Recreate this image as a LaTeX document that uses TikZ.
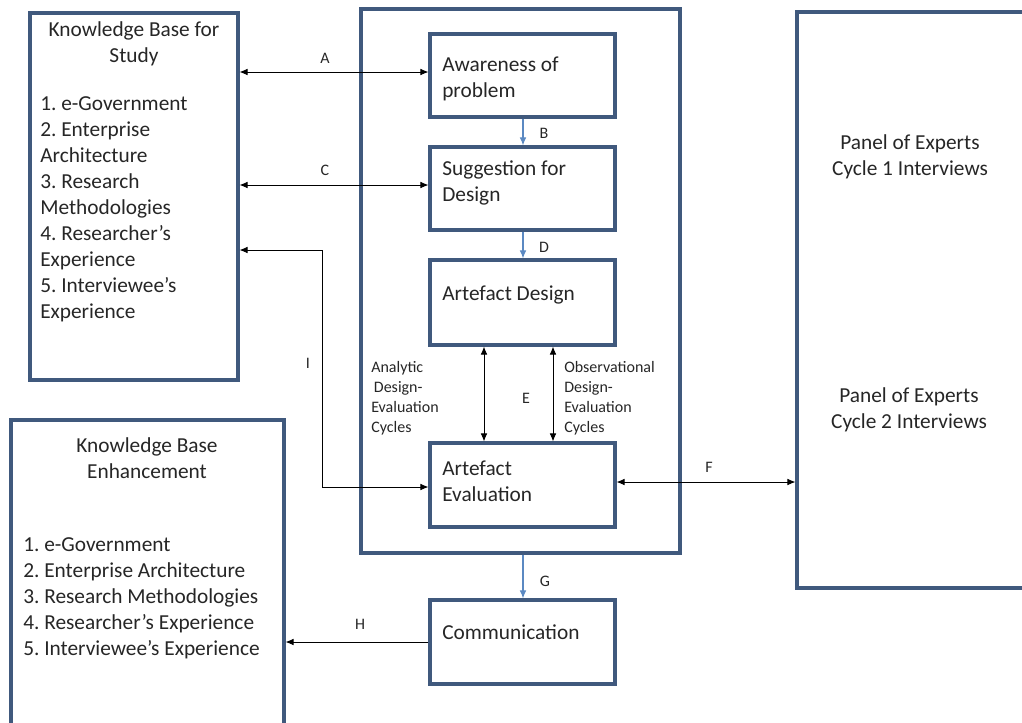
\documentclass[tikz,border=0pt]{standalone}
\usepackage{fontspec}
\setmainfont{Carlito}
\usetikzlibrary{arrows.meta,fit}
\definecolor{boxc}{HTML}{40597D}
\definecolor{flowc}{HTML}{5B89C2}
\frenchspacing
\begin{document}
\begin{tikzpicture}[x=0.75pt,y=-0.75pt,
  box/.style={draw=boxc,line width=2.4pt,inner sep=0pt,fill=none},
  txt/.style={font=\fontsize{16}{19.5}\selectfont,inner sep=0pt,text=black!85},
  small/.style={font=\fontsize{12}{15}\selectfont,inner sep=0pt,text=black!85,align=left},
  lbl/.style={font=\fontsize{12}{12}\selectfont,inner sep=0pt,text=black!85},
  conn/.style={draw=black,line width=0.6pt,{Latex[length=6pt,width=5pt]}-{Latex[length=6pt,width=5pt]}},
  one/.style={draw=black,line width=0.6pt,-{Latex[length=6pt,width=5pt]}},
  flow/.style={draw=flowc,line width=0.8pt,-{Latex[length=6pt,width=5pt]}}]
\useasboundingbox (0,0) rectangle (1022,722);
% boxes
\node[box,fit={(30,13) (238,380)}] (kbs) {};
\node[box,fit={(361,9) (680,553)}] (main) {};
\node[box,fit={(430,34) (615,117)}] (aw) {};
\node[box,fit={(430,147) (615,230)}] (sug) {};
\node[box,fit={(430,260) (615,345)}] (ad) {};
\node[box,fit={(430,443) (615,527)}] (ae) {};
\node[box,fit={(430,600) (615,684)}] (com) {};
\node[box,fit={(11,420) (284,735)}] (kbe) {};
\node[box,fit={(797,12) (1035,588)}] (pan) {};
% texts
\node[txt,align=center] (kbst) at (134,44) {Knowledge Base for\\Study};
\node[txt,align=left,anchor=north west] (kbsl) at (40,96) {1. e-Government\\2. Enterprise\\Architecture\\3. Research\\Methodologies\\4. Researcher’s\\Experience\\5. Interviewee’s\\Experience};
\node[txt,align=left,anchor=west] (awt) at (442,79) {Awareness of\\problem};
\node[txt,align=left,anchor=west] (sugt) at (442,183) {Suggestion for\\Design};
\node[txt,anchor=west] (adt) at (442,295) {Artefact Design};
\node[txt,align=left,anchor=west] (aet) at (442,481) {Artefact\\Evaluation};
\node[txt,anchor=west] (comt) at (442,632) {Communication};
\node[txt,align=center] (kbet) at (147,458) {Knowledge Base\\Enhancement};
\node[txt,align=left,anchor=north west] (kbel) at (23,537) {1. e-Government\\2. Enterprise Architecture\\3. Research Methodologies\\4. Researcher’s Experience\\5. Interviewee’s Experience};
\node[txt,align=center] (p1) at (910,157) {Panel of Experts\\Cycle 1 Interviews};
\node[txt,align=center] (p2) at (909,410) {Panel of Experts\\Cycle 2 Interviews};
\node[small,anchor=north west] (ana) at (371,361) {Analytic\\ \hspace{2pt}Design-\\Evaluation\\Cycles};
\node[small,anchor=north west] (obs) at (564,361) {Observational\\Design-\\Evaluation\\Cycles};
% connectors
\draw[conn] (kbs.east |- 0,72) -- (aw.west |- 0,72);
\draw[conn] (kbs.east |- 0,185) -- (sug.west |- 0,185);
\coordinate (i1) at (322,250);
\coordinate (i2) at (322,487);
\draw[conn] (kbs.east |- i1) -- (i1) -- (i2) -- (ae.west |- i2);
\draw[flow] (aw.south -| 523,0) -- (sug.north -| 523,0);
\draw[flow] (sug.south -| 523,0) -- (ad.north -| 523,0);
\draw[flow] (main.south -| 523,0) -- (com.north -| 523,0);
\draw[conn] (ad.south -| 484,0) -- (ae.north -| 484,0);
\draw[conn] (ad.south -| 553,0) -- (ae.north -| 553,0);
\draw[conn] (ae.east |- 0,482) -- (pan.west |- 0,482);
\draw[one] (com.west |- 0,642) -- (kbe.east |- 0,642);
% labels
\node[lbl] (la) at (325,58) {A};
\node[lbl] (lb) at (544,133) {B};
\node[lbl] (lc) at (325,170) {C};
\node[lbl] (ld) at (544,247) {D};
\node[lbl] (le) at (526,398) {E};
\node[lbl] (lf) at (709,467) {F};
\node[lbl] (lg) at (545,581) {G};
\node[lbl] (lh) at (360,624) {H};
\node[lbl] (li) at (308,363) {I};
\end{tikzpicture}
\end{document}
